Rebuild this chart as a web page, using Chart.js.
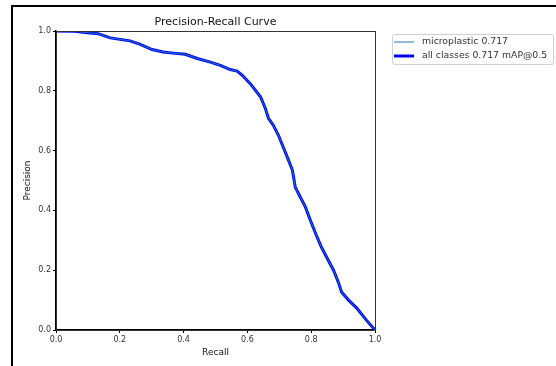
<!DOCTYPE html>
<html>
<head>
<meta charset="utf-8">
<script src="https://cdn.jsdelivr.net/npm/chart.js@4.4.1/dist/chart.umd.min.js"></script>
<style>
    html, body { margin: 0; padding: 0; background: #fff; }
    #wrap { position: relative; width: 556px; height: 366px; overflow: hidden; }
    #frame {
        position: absolute; left: 11px; top: 5px; right: -10px; bottom: -10px;
        border-left: 2px solid #000; border-top: 2px solid #000;
    }
    canvas { position: absolute; left: 0; top: 0; }
</style>
</head>
<body>
<div id="wrap">
    <canvas id="chart" width="556" height="366"></canvas>
    <div id="frame"></div>
</div>
<script>
// PR curve values
const recall = [0.000, 0.060, 0.091, 0.132, 0.170, 0.201, 0.232, 0.264, 0.301, 0.336,
    0.367, 0.405, 0.443, 0.484, 0.515, 0.546, 0.568, 0.584, 0.609, 0.641,
    0.656, 0.666, 0.681, 0.697, 0.710, 0.725, 0.741, 0.750, 0.766, 0.782,
    0.797, 0.816, 0.832, 0.848, 0.870, 0.885, 0.895, 0.917, 0.942, 0.973, 1.000];
const precision = [1.000, 0.999, 0.995, 0.991, 0.977, 0.972, 0.967, 0.955, 0.938, 0.930,
    0.926, 0.922, 0.908, 0.896, 0.885, 0.871, 0.866, 0.852, 0.824, 0.780,
    0.742, 0.708, 0.685, 0.652, 0.618, 0.578, 0.535, 0.478, 0.444, 0.411,
    0.368, 0.317, 0.277, 0.244, 0.200, 0.160, 0.127, 0.100, 0.074, 0.033, 0.000];
const seriesLabels = ['microplastic 0.717', 'all classes 0.717 mAP@0.5'];
const tickValues = [0, 0.2, 0.4, 0.6, 0.8, 1.0];

const FONT = 'DejaVu Sans';

function toPoints(xs, ys) {
    return xs.map(function(x, i) { return { x: x, y: ys[i] }; });
}

// draws the full box around the plot area
const frameBox = {
    id: 'frameBox',
    afterDraw: function(chart) {
        const a = chart.chartArea;
        const ctx = chart.ctx;
        ctx.save();
        ctx.strokeStyle = '#333';
        ctx.lineWidth = 1;
        ctx.strokeRect(a.left + 0.5, a.top + 0.5, a.right - a.left, a.bottom - a.top);
        ctx.restore();
    }
};

// matplotlib style legend, to the right of the axes
const sideLegend = {
    id: 'sideLegend',
    afterDraw: function(chart) {
        const ctx = chart.ctx;
        const left = 392, top = 34, width = 161, height = 30;
        ctx.save();
        ctx.fillStyle = '#fff';
        ctx.strokeStyle = '#d0d0d0';
        ctx.lineWidth = 1;
        ctx.beginPath();
        ctx.roundRect(left + 0.5, top + 0.5, width, height, 2);
        ctx.fill();
        ctx.stroke();

        ctx.font = '9.3px "' + FONT + '"';
        ctx.textBaseline = 'middle';
        ctx.textAlign = 'left';
        chart.data.datasets.forEach(function(ds, i) {
            const y = top + 8 + i * 14;
            ctx.strokeStyle = ds.borderColor;
            ctx.lineWidth = ds.borderWidth;
            ctx.beginPath();
            ctx.moveTo(left + 2, y);
            ctx.lineTo(left + 22, y);
            ctx.stroke();
            ctx.fillStyle = '#333';
            ctx.fillText(ds.label, left + 30, y);
        });
        ctx.restore();
    }
};

function axisOptions(titleText, isX) {
    return {
        type: 'linear',
        min: 0,
        max: 1,
        afterBuildTicks: function(axis) {
            axis.ticks = tickValues.map(function(v) { return { value: v }; });
        },
        afterFit: function(axis) {
            if (isX) {
                axis.height = 36;
            } else {
                axis.width = 56;
            }
        },
        ticks: {
            color: '#333',
            font: { family: FONT, size: 8 },
            padding: 2,
            maxRotation: 0,
            callback: function(v) { return Number(v).toFixed(1); }
        },
        grid: {
            display: true,
            drawOnChartArea: false,
            drawTicks: true,
            tickLength: 3,
            color: '#000'
        },
        border: { display: true, color: '#000', width: 1.5 },
        title: {
            display: true,
            text: titleText,
            color: '#111',
            font: { family: FONT, size: 9 },
            padding: isX ? { top: 0, bottom: 8 } : { top: 22, bottom: 0 }
        }
    };
}

const ctx = document.getElementById('chart').getContext('2d');
new Chart(ctx, {
    type: 'line',
    data: {
        datasets: [
            {
                label: seriesLabels[0],
                data: toPoints(recall, precision),
                borderColor: '#1f77b4',
                borderWidth: 1,
                pointRadius: 0,
                tension: 0
            },
            {
                label: seriesLabels[1],
                data: toPoints(recall, precision),
                borderColor: '#0000ff',
                borderWidth: 3,
                pointRadius: 0,
                tension: 0
            }
        ]
    },
    options: {
        responsive: false,
        animation: false,
        devicePixelRatio: 1,
        layout: { padding: { top: 0, right: 181, bottom: 0, left: 0 } },
        plugins: {
            legend: { display: false },
            tooltip: { enabled: false },
            title: {
                display: true,
                text: 'Precision-Recall Curve',
                fullSize: false,
                color: '#111',
                font: { family: FONT, size: 11, weight: 'normal' },
                padding: { top: 15.1, bottom: 2.7 }
            }
        },
        scales: {
            x: axisOptions('Recall', true),
            y: axisOptions('Precision', false)
        }
    },
    plugins: [frameBox, sideLegend]
});
</script>
</body>
</html>
